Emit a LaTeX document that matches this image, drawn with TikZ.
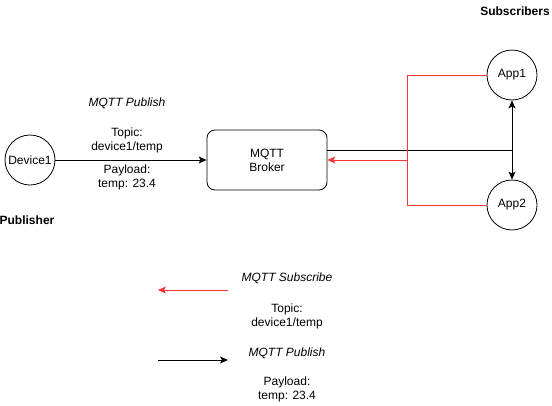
\documentclass[tikz,border=0pt]{standalone}
\usepackage{fontspec}
\setmainfont{Liberation Sans}
\usetikzlibrary{arrows.meta}
\definecolor{subred}{HTML}{FF3333}
\tikzset{
  every node/.style={font=\fontsize{12pt}{14pt}\selectfont},
  dev/.style={draw, circle, minimum size=50pt, inner sep=0pt, line width=0.8pt},
  broker/.style={draw, rounded corners=8pt, minimum width=120pt, minimum height=60pt, line width=0.8pt, align=center},
  lbl/.style={align=center, inner sep=0pt},
  ital/.style={font=\fontsize{12pt}{14pt}\selectfont\itshape, inner sep=0pt},
  bold/.style={font=\fontsize{12pt}{14pt}\selectfont\bfseries, inner sep=0pt},
  pub/.style={line width=0.8pt, -{Stealth[length=8pt,width=7pt,inset=2pt]}},
  sub/.style={line width=0.8pt, subred, -{Stealth[length=8pt,width=7pt,inset=2pt]}},
  subline/.style={line width=0.8pt, subred},
}
\begin{document}
\begin{tikzpicture}[x=1pt,y=-1pt]
\useasboundingbox (0,0) rectangle (552,405);
\node[dev] (dev) at (30,160) {Device1};
\node[broker] (broker) at (267,160) {MQTT\\Broker};
\node[dev] (app1) at (512,75) {App1};
\node[dev] (app2) at (512,205) {App2};
\coordinate (j) at (512,150);
\coordinate (rv1) at (407,75);
\coordinate (rv2) at (407,205);
\coordinate (rm) at (407,160);
% publish
\draw[pub] (dev) -- (broker);
\draw[line width=0.8pt] (broker.east |- j) -- (j);
\draw[pub] (j) -- (app1);
\draw[pub] (j) -- (app2);
% subscribe
\draw[subline] (app1) -- (rv1) -- (rv2) -- (app2);
\draw[sub] (rm) -- (broker.east |- rm);
% labels
\node[ital] (pl) at (127,103) {MQTT Publish};
\node[lbl] (tp) at (127,140) {Topic:\\device1/temp};
\node[lbl] (py) at (127,177) {Payload:\\temp: 23.4};
\node[bold] (publ) at (27,220) {Publisher};
\node[bold] (subs) at (515,11) {Subscribers};
% legend
\coordinate (ls1) at (228,290);
\coordinate (ls2) at (158,290);
\coordinate (lp1) at (158,360);
\coordinate (lp2) at (228,360);
\draw[sub] (ls1) -- (ls2);
\draw[pub] (lp1) -- (lp2);
\node[ital] (lsub) at (287,278) {MQTT Subscribe};
\node[lbl] (ltp) at (287,316) {Topic:\\device1/temp};
\node[ital] (lpub) at (287,353) {MQTT Publish};
\node[lbl] (lpy) at (287,389) {Payload:\\temp: 23.4};
\end{tikzpicture}
\end{document}
